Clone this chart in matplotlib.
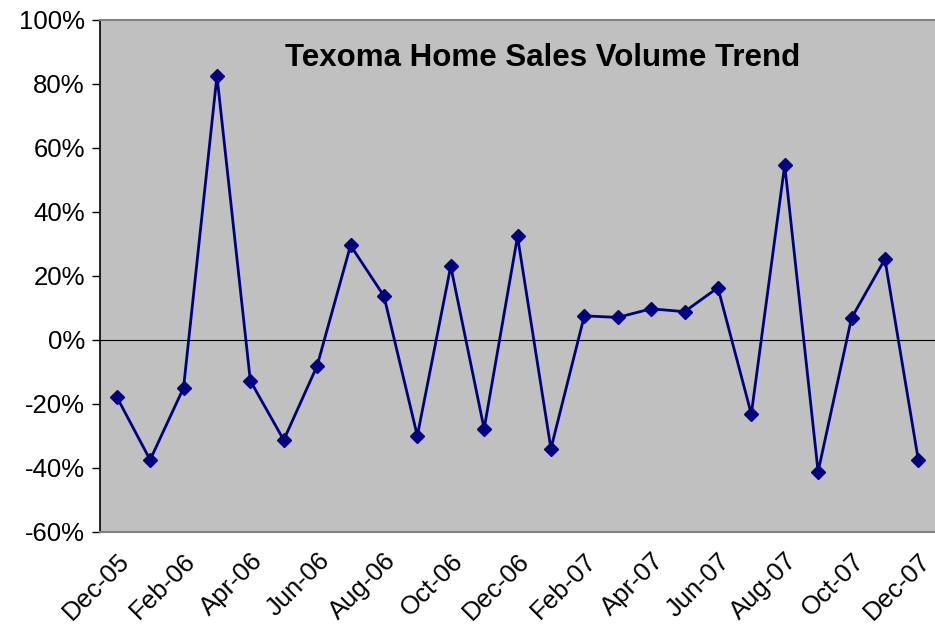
import numpy as np
import matplotlib
matplotlib.use("Agg")
import matplotlib.pyplot as plt
from matplotlib.ticker import PercentFormatter

months = ["Dec-05", "Jan-06", "Feb-06", "Mar-06", "Apr-06", "May-06", "Jun-06",
          "Jul-06", "Aug-06", "Sep-06", "Oct-06", "Nov-06", "Dec-06",
          "Jan-07", "Feb-07", "Mar-07", "Apr-07", "May-07", "Jun-07",
          "Jul-07", "Aug-07", "Sep-07", "Oct-07", "Nov-07", "Dec-07"]
change = [-17.8, -37.5, -15.0, 82.5, -12.8, -31.3, -8.1,
          29.5, 13.7, -30.0, 23.0, -27.8, 32.3,
          -34.0, 7.5, 7.0, 9.7, 8.8, 16.3,
          -23.2, 54.6, -41.2, 6.8, 25.2, -37.5]
yticks = [-60, -40, -20, 0, 20, 40, 60, 80, 100]

plt.rcParams['font.family'] = ['Liberation Sans', 'DejaVu Sans']
plt.rcParams['axes.unicode_minus'] = False

fig = plt.figure(figsize=(9.35, 6.37), dpi=100)
ax = fig.add_axes([0.107, 0.165, 0.893, 0.804])
ax.set_facecolor('#c0c0c0')

x = np.arange(len(months))
ax.axhline(0, color='black', lw=0.8, zorder=1)
ax.plot(x, change, color='#000080', lw=2, marker='D', ms=7.5, zorder=3)

ax.set_xlim(-0.5, len(months) - 0.5)
ax.set_ylim(-60, 100)
ax.set_yticks(yticks)
ax.yaxis.set_major_formatter(PercentFormatter(decimals=0))
ax.set_xticks(x[::2])
ax.set_xticklabels(months[::2], rotation=45, ha='right', va='top',
                   rotation_mode='anchor')
ax.tick_params(axis='x', length=0, pad=12, labelsize=18.5)
ax.tick_params(axis='y', length=6, width=1, labelsize=18.5, direction='out', pad=5)

for side in ['top', 'bottom']:
    ax.spines[side].set_color('#808080')
    ax.spines[side].set_linewidth(1.5)
ax.spines['right'].set_visible(False)
ax.spines['left'].set_color('black')
ax.spines['left'].set_linewidth(1.2)

ax.text(0.53, 0.925, "Texoma Home Sales Volume Trend", transform=ax.transAxes,
        ha='center', va='center', fontsize=22.5, fontweight='bold')

fig.savefig("out.png", dpi=100)
